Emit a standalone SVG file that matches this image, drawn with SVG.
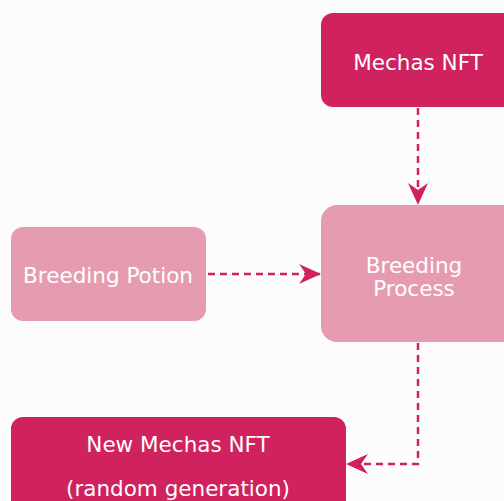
<svg xmlns="http://www.w3.org/2000/svg" width="504" height="501" viewBox="0 0 504 501">
<defs>
<marker id="arr" viewBox="0 0 22 20" refX="21" refY="10" markerWidth="22" markerHeight="20" markerUnits="userSpaceOnUse" orient="auto">
<path d="M0,0 L22,10 L0,20 L7,10 Z" fill="#d0225e"/>
</marker>
<style>
.dark{fill:#d0225e}
.light{fill:#e69cb0}
.t{font-family:"DejaVu Sans",Verdana,sans-serif;font-size:21.5px;fill:#ffffff;text-anchor:middle}
.c{fill:none;stroke:#d0225e;stroke-width:2.5;stroke-dasharray:7,5}
</style>
</defs>
<rect width="504" height="501" fill="#fdfcfc"/>
<g id="mechas">
<rect class="dark" x="321" y="13" width="200" height="94" rx="12"/>
<text class="t" x="418" y="70">Mechas NFT</text>
</g>
<g id="potion">
<rect class="light" x="11" y="227" width="195" height="94" rx="12"/>
<text class="t" x="108" y="283">Breeding Potion</text>
</g>
<g id="process">
<rect class="light" x="321" y="205" width="200" height="137" rx="16"/>
<text class="t" x="414" y="273">Breeding</text>
<text class="t" x="414" y="296">Process</text>
</g>
<g id="newnft">
<rect class="dark" x="11" y="417" width="335" height="100" rx="12"/>
<text class="t" x="178" y="452">New Mechas NFT</text>
<text class="t" x="178" y="496">(random generation)</text>
</g>
<g id="connectors">
<path class="c" d="M418,108 L418,204" marker-end="url(#arr)"/>
<path class="c" d="M208,274 L320,274" marker-end="url(#arr)"/>
<path class="c" d="M418,343 L418,464 L347,464" marker-end="url(#arr)"/>
</g>
</svg>
